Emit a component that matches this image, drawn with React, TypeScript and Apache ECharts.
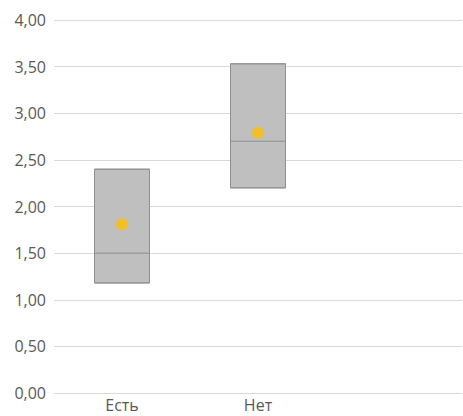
import React, { useEffect, useRef } from "react";
import * as echarts from "echarts";

const categories = ["Есть", "Нет", ""];
const boxMin = [1.18, 2.2];
const boxQ1 = [1.18, 2.2];
const boxMedian = [1.5, 2.7];
const boxQ3 = [2.4, 3.53];
const boxMax = [2.4, 3.53];
const means = [1.81, 2.79];

export default function App() {
  const ref = useRef<HTMLDivElement>(null);
  useEffect(() => {
    if (!ref.current) return;
    const chart = echarts.init(ref.current, null, { renderer: "svg" });
    const boxData = boxMin.map((v, i) => [v, boxQ1[i], boxMedian[i], boxQ3[i], boxMax[i]]);
    chart.setOption({
      animation: false,
      grid: { left: 54, right: 1, top: 20, bottom: 23, containLabel: false },
      xAxis: {
        type: "category",
        data: categories,
        axisLine: { show: true, lineStyle: { color: "#d9d9d9", width: 1 } },
        axisTick: { show: false },
        axisLabel: { color: "#595959", fontSize: 16, fontFamily: "Open Sans", margin: 4 },
        splitLine: { show: false },
      },
      yAxis: {
        type: "value",
        min: 0,
        max: 4,
        interval: 0.5,
        axisLine: { show: false },
        axisTick: { show: false },
        axisLabel: {
          color: "#595959",
          fontSize: 16,
          fontFamily: "Open Sans",
          margin: 8,
          formatter: (v: number) => v.toFixed(2).replace(".", ","),
        },
        splitLine: { lineStyle: { color: "#d9d9d9", width: 1 } },
      },
      series: [
        {
          type: "boxplot",
          data: boxData,
          boxWidth: [55, 55],
          itemStyle: { color: "#bfbfbf", borderColor: "#8f8f8f", borderWidth: 1 },
          emphasis: { disabled: true },
        },
        {
          type: "scatter",
          data: means,
          symbol: "circle",
          symbolSize: 12,
          itemStyle: { color: "#ffc000" },
          z: 5,
        },
      ],
    });
    return () => chart.dispose();
  }, []);
  return (
    <div
      ref={ref}
      style={{ position: "absolute", left: 0, top: 0, width: 463, height: 416 }}
    />
  );
}
